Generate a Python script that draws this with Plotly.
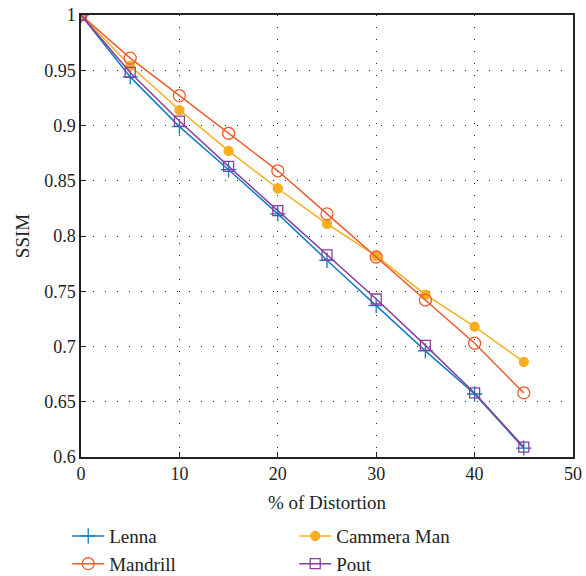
import plotly.graph_objects as go

distortion = [0, 5, 10, 15, 20, 25, 30, 35, 40, 45]
lenna = [1.0, 0.944, 0.899, 0.860, 0.820, 0.778, 0.737, 0.696, 0.657, 0.608]
mandrill = [1.0, 0.961, 0.927, 0.893, 0.859, 0.820, 0.781, 0.742, 0.703, 0.658]
cammera_man = [1.0, 0.954, 0.914, 0.877, 0.843, 0.811, 0.782, 0.747, 0.718, 0.686]
pout = [1.0, 0.948, 0.904, 0.863, 0.823, 0.783, 0.743, 0.701, 0.658, 0.609]

x_ticks = [0, 10, 20, 30, 40, 50]
y_ticks = [0.6, 0.65, 0.7, 0.75, 0.8, 0.85, 0.9, 0.95, 1.0]
y_labels = ["0.6", "0.65", "0.7", "0.75", "0.8", "0.85", "0.9", "0.95", "1"]

FONT = "Liberation Serif"

series = [
    ("Lenna", lenna, "#0f7cc6", "cross-thin-open", 11, 1),
    ("Cammera Man", cammera_man, "#f6ae1f", "circle", 9, 2),
    ("Mandrill", mandrill, "#ef5a2a", "circle-open", 12, 3),
    ("Pout", pout, "#8a3e9c", "square-open", 10, 4),
]

fig = go.Figure()
for name, vals, color, symbol, size, rank in series:
    fig.add_trace(go.Scatter(
        x=distortion, y=vals, name=name, mode="lines+markers",
        line=dict(color=color, width=1.5),
        marker=dict(symbol=symbol, size=size, color=color,
                    line=dict(color=color, width=1.3)),
        legendrank=rank,
    ))

axis_common = dict(
    showline=True, linecolor="#222", linewidth=1.5, mirror=True,
    ticks="inside", ticklen=5, tickcolor="#222",
    showgrid=True, gridcolor="#222", gridwidth=1, griddash="1px,11px",
    zeroline=False,
    tickfont=dict(family=FONT, size=18, color="#222"),
    automargin=False,
)

fig.update_xaxes(
    range=[0, 50], tickvals=x_ticks,
    title=dict(text="% of Distortion", font=dict(family=FONT, size=19, color="#222"), standoff=12),
    **axis_common,
)
fig.update_yaxes(
    range=[0.6, 1.0], tickvals=y_ticks, ticktext=y_labels,
    title=dict(text="SSIM", font=dict(family=FONT, size=19, color="#222"), standoff=10),
    **axis_common,
)

fig.update_layout(
    width=586, height=576,
    margin=dict(l=81, r=13, t=15, b=119, autoexpand=False),
    paper_bgcolor="white", plot_bgcolor="white",
    font=dict(family=FONT, color="#222"),
    legend=dict(
        orientation="h",
        x=-0.028, xanchor="left", y=-0.136, yanchor="top",
        entrywidth=180, font=dict(family=FONT, size=19, color="#222"),
        itemwidth=32, tracegroupgap=0,
    ),
)

fig.write_html("out.html")
